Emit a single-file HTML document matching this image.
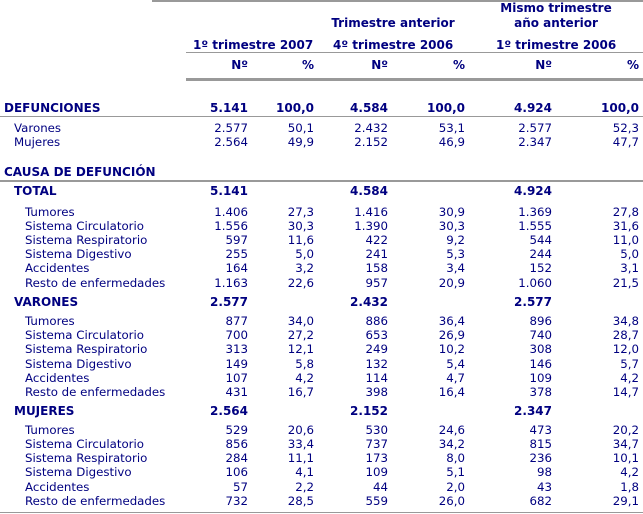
<!DOCTYPE html>
<html><head><meta charset="utf-8"><style>
body{margin:0;width:643px;height:514px;background:#fff;position:relative;overflow:hidden;font-family:"DejaVu Sans","Liberation Sans",sans-serif;color:#000080;font-size:11.8px}
.t{position:absolute;line-height:14px;height:14px;white-space:nowrap}
.r{text-align:right;width:120px}
.b{font-weight:bold;font-size:12px}
.l{position:absolute;background:#999}
</style></head><body>
<div class="l" style="left:152px;top:0;width:491px;height:2px"></div>
<div class="l" style="left:186px;top:52px;width:457px;height:1px"></div>
<div class="l" style="left:186px;top:78px;width:457px;height:3px"></div>
<div class="l" style="left:0;top:116px;width:643px;height:1px"></div>
<div class="l" style="left:0;top:180px;width:643px;height:2px"></div>
<div class="l" style="left:0;top:512px;width:643px;height:1px"></div>

<div class="t b" style="left:476px;width:160px;text-align:center;top:1px">Mismo trimestre</div>
<div class="t b" style="left:313px;width:160px;text-align:center;top:16px">Trimestre anterior</div>
<div class="t b" style="left:476px;width:160px;text-align:center;top:16px">año anterior</div>
<div class="t b" style="left:193px;top:38px">1º trimestre 2007</div>
<div class="t b" style="left:333px;top:38px">4º trimestre 2006</div>
<div class="t b" style="left:496px;top:38px">1º trimestre 2006</div>
<div id="rows"></div>
<script>
var R=[248,314,388,465,552,639];
var rows=[
[58,'',['Nº','%','Nº','%','Nº','%'],1,0],
[101,'DEFUNCIONES',['5.141','100,0','4.584','100,0','4.924','100,0'],1,4],
[121,'Varones',['2.577','50,1','2.432','53,1','2.577','52,3'],0,14],
[135,'Mujeres',['2.564','49,9','2.152','46,9','2.347','47,7'],0,14],
[165,'CAUSA DE DEFUNCIÓN',[],1,4],
[184,'TOTAL',['5.141','','4.584','','4.924',''],1,14],
[205,'Tumores',['1.406','27,3','1.416','30,9','1.369','27,8'],0,25],
[219,'Sistema Circulatorio',['1.556','30,3','1.390','30,3','1.555','31,6'],0,25],
[233,'Sistema Respiratorio',['597','11,6','422','9,2','544','11,0'],0,25],
[247,'Sistema Digestivo',['255','5,0','241','5,3','244','5,0'],0,25],
[261,'Accidentes',['164','3,2','158','3,4','152','3,1'],0,25],
[276,'Resto de enfermedades',['1.163','22,6','957','20,9','1.060','21,5'],0,25],
[295,'VARONES',['2.577','','2.432','','2.577',''],1,14],
[314,'Tumores',['877','34,0','886','36,4','896','34,8'],0,25],
[328,'Sistema Circulatorio',['700','27,2','653','26,9','740','28,7'],0,25],
[342,'Sistema Respiratorio',['313','12,1','249','10,2','308','12,0'],0,25],
[357,'Sistema Digestivo',['149','5,8','132','5,4','146','5,7'],0,25],
[371,'Accidentes',['107','4,2','114','4,7','109','4,2'],0,25],
[385,'Resto de enfermedades',['431','16,7','398','16,4','378','14,7'],0,25],
[404,'MUJERES',['2.564','','2.152','','2.347',''],1,14],
[423,'Tumores',['529','20,6','530','24,6','473','20,2'],0,25],
[437,'Sistema Circulatorio',['856','33,4','737','34,2','815','34,7'],0,25],
[451,'Sistema Respiratorio',['284','11,1','173','8,0','236','10,1'],0,25],
[465,'Sistema Digestivo',['106','4,1','109','5,1','98','4,2'],0,25],
[480,'Accidentes',['57','2,2','44','2,0','43','1,8'],0,25],
[494,'Resto de enfermedades',['732','28,5','559','26,0','682','29,1'],0,25]
];
var h='';
rows.forEach(function(r){
 var c=r[3]?'t b':'t';
 if(r[1])h+='<div class="'+c+'" style="left:'+r[4]+'px;top:'+r[0]+'px">'+r[1]+'</div>';
 r[2].forEach(function(v,i){if(v)h+='<div class="'+c+' r" style="left:'+(R[i]-120)+'px;top:'+r[0]+'px">'+v+'</div>';});
});
document.getElementById('rows').innerHTML=h;
</script>
</body></html>
